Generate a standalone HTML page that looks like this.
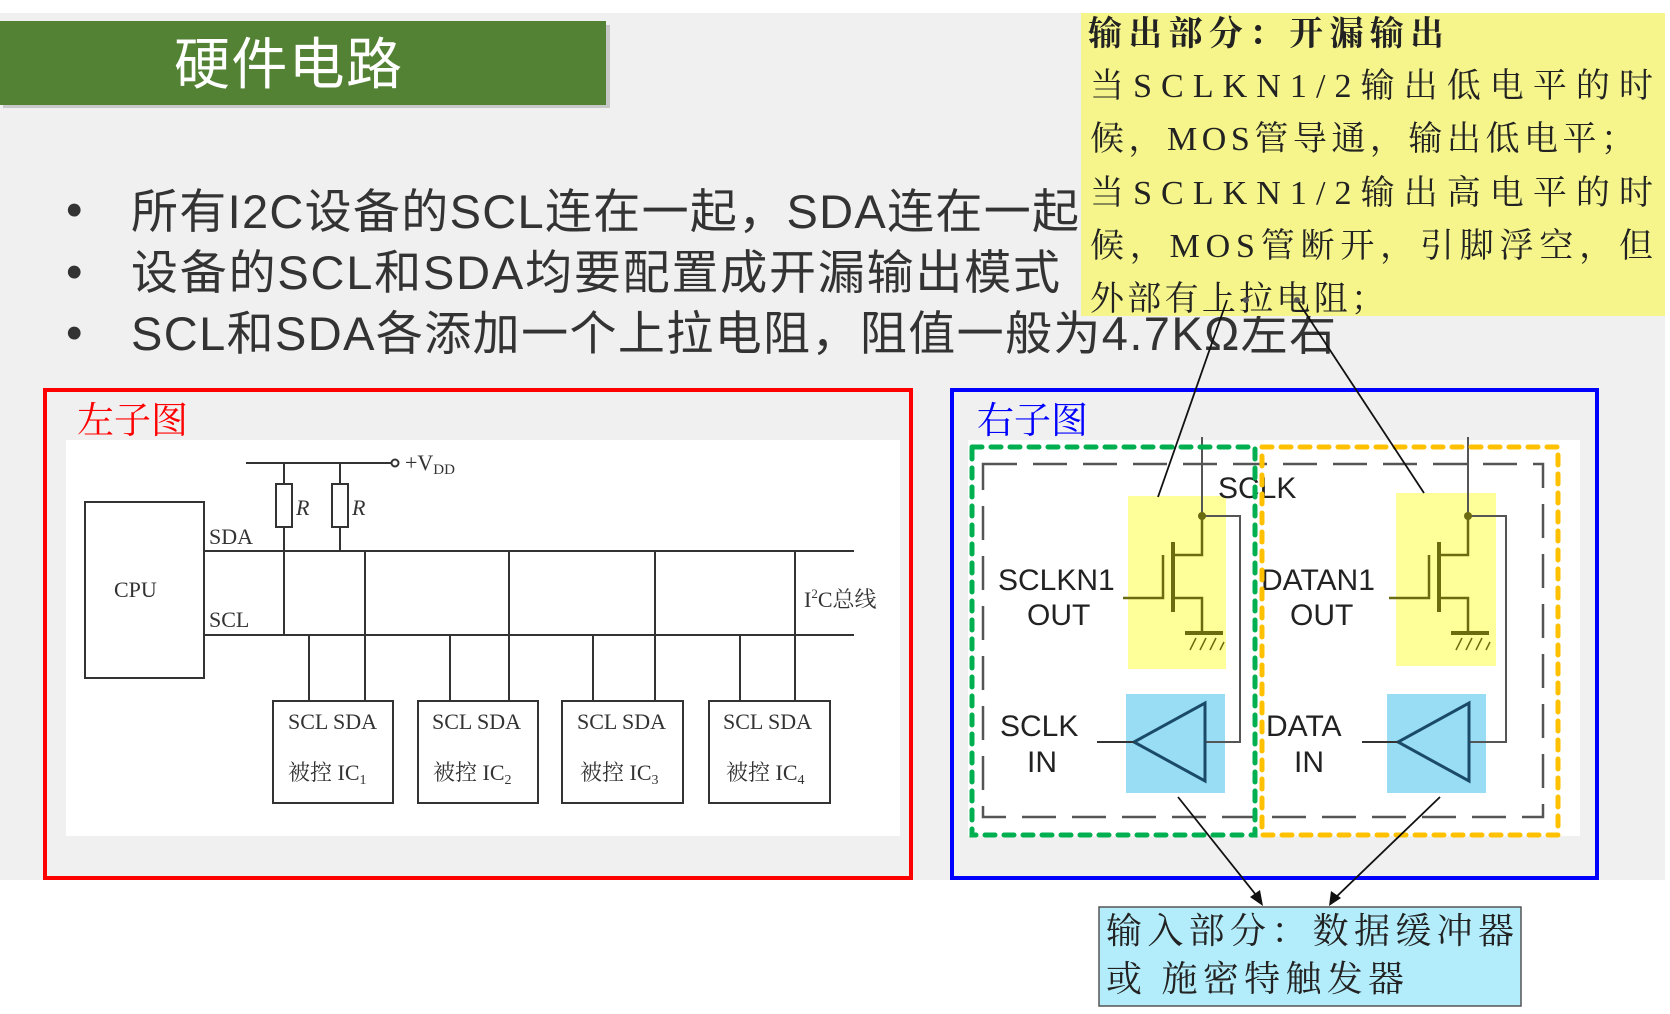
<!DOCTYPE html>
<html><head><meta charset="utf-8"><style>
body{margin:0;width:1670px;height:1014px;background:#fff;overflow:hidden}
svg{display:block}
.t{font-family:"Liberation Serif","Noto Serif CJK SC",serif}
.s{font-family:"Liberation Sans","Noto Sans CJK SC",sans-serif}
</style></head><body>
<svg width="1670" height="1014" viewBox="0 0 1670 1014" xmlns="http://www.w3.org/2000/svg">
<rect x="0" y="13" width="1665" height="867" fill="#f0f0f0"/>
<rect x="3" y="25" width="607" height="83" fill="#c8c8c8"/>
<rect x="0" y="21" width="606" height="84" fill="#548235"/>
<text x="174" y="84" class="s" font-size="56" fill="#fff" textLength="228">硬件电路</text>

<g class="s" font-size="47" fill="#333">
<text x="66" y="226">•</text><text x="131" y="228" textLength="948">所有I2C设备的SCL连在一起，SDA连在一起</text>
<text x="66" y="288">•</text><text x="131" y="289" textLength="929">设备的SCL和SDA均要配置成开漏输出模式</text>
<text x="66" y="349">•</text><text x="131" y="350" textLength="1205">SCL和SDA各添加一个上拉电阻，阻值一般为4.7KΩ左右</text>
</g>

<rect x="1081" y="13" width="584" height="303" fill="#f5f58c"/>
<g class="t" font-size="34" fill="#222">
<text x="1088" y="45" font-weight="bold" textLength="356">输出部分：开漏输出</text>
<text x="1090" y="97" textLength="563">当SCLKN1/2输出低电平的时</text>
<text x="1090" y="150" textLength="545">候，MOS管导通，输出低电平；</text>
<text x="1090" y="204" textLength="563">当SCLKN1/2输出高电平的时</text>
<text x="1090" y="257" textLength="563">候，MOS管断开，引脚浮空，但</text>
<text x="1090" y="310" textLength="295">外部有上拉电阻；</text>
</g>

<!-- left panel -->
<rect x="45" y="390" width="866" height="488" fill="none" stroke="#f00" stroke-width="4"/>
<text x="77" y="433" class="t" font-size="37" fill="#f00">左子图</text>
<rect x="66" y="440" width="834" height="396" fill="#fff"/>
<g stroke="#333" stroke-width="2" fill="none">
<rect x="85" y="502" width="119" height="176"/>
<line x1="246" y1="463" x2="392" y2="463"/>
<circle cx="395" cy="463" r="3.5"/>
<line x1="284" y1="463" x2="284" y2="635"/>
<line x1="340" y1="463" x2="340" y2="551"/>
<rect x="276" y="484" width="16" height="43" fill="#fff"/>
<rect x="332" y="484" width="16" height="43" fill="#fff"/>
<line x1="204" y1="551" x2="854" y2="551"/>
<line x1="204" y1="635" x2="854" y2="635"/>
<line x1="309" y1="635" x2="309" y2="701"/><line x1="365" y1="551" x2="365" y2="701"/>
<line x1="450" y1="635" x2="450" y2="701"/><line x1="509" y1="551" x2="509" y2="701"/>
<line x1="593" y1="635" x2="593" y2="701"/><line x1="655" y1="551" x2="655" y2="701"/>
<line x1="740" y1="635" x2="740" y2="701"/><line x1="795" y1="551" x2="795" y2="701"/>
<rect x="273" y="701" width="120" height="102"/>
<rect x="418" y="701" width="120" height="102"/>
<rect x="562" y="701" width="121" height="102"/>
<rect x="709" y="701" width="121" height="102"/>
</g>
<g class="t" fill="#333" font-size="22">
<text x="405" y="470">+V<tspan font-size="15" dy="4">DD</tspan></text>
<text x="296" y="515" font-style="italic">R</text><text x="352" y="515" font-style="italic">R</text>
<text x="209" y="544">SDA</text><text x="209" y="627">SCL</text>
<text x="114" y="597">CPU</text>
<text x="804" y="607">I<tspan font-size="13" dy="-9">2</tspan><tspan dy="9">C总线</tspan></text>
<text x="288" y="729">SCL SDA</text><text x="432" y="729">SCL SDA</text><text x="577" y="729">SCL SDA</text><text x="723" y="729">SCL SDA</text>
<text x="288" y="780">被控 IC<tspan font-size="14" dy="4">1</tspan></text>
<text x="433" y="780">被控 IC<tspan font-size="14" dy="4">2</tspan></text>
<text x="580" y="780">被控 IC<tspan font-size="14" dy="4">3</tspan></text>
<text x="726" y="780">被控 IC<tspan font-size="14" dy="4">4</tspan></text>
</g>

<!-- right panel -->
<rect x="952" y="390" width="645" height="488" fill="none" stroke="#00f" stroke-width="4"/>
<text x="977" y="433" class="t" font-size="37" fill="#00f">右子图</text>
<rect x="968" y="440" width="612" height="396" fill="#fff"/>
<rect x="1128" y="496" width="98" height="173" fill="#ffff99"/>
<rect x="1396" y="493" width="100" height="173" fill="#ffff99"/>
<rect x="1126" y="694" width="99" height="99" fill="#99ddf5"/>
<rect x="1387" y="694" width="99" height="99" fill="#99ddf5"/>
<rect x="983" y="464" width="560" height="353" fill="none" stroke="#555" stroke-width="2.5" stroke-dasharray="34,16"/>
<g stroke="#555" stroke-width="2" fill="none">
<line x1="1202" y1="437" x2="1202" y2="516"/>
<polyline points="1202,516 1240,516 1240,742 1205,742"/>
<line x1="1468" y1="437" x2="1468" y2="516"/>
<polyline points="1468,516 1506,516 1506,742 1470,742"/>
</g>
<g stroke="#6b6b10" stroke-width="2.5" fill="none">
<polyline points="1202,516 1202,555 1175,555"/><line x1="1173" y1="542" x2="1173" y2="612" stroke-width="4"/>
<polyline points="1175,598 1202,598 1202,633"/><line x1="1185" y1="633" x2="1223" y2="633" stroke-width="4"/>
<path d="M1190,650 l6,-12 M1200,650 l6,-12 M1210,650 l6,-12 M1220,650 l4,-8" stroke-width="1.5"/>
<polyline points="1163,555 1163,598 1123,598"/>
<polyline points="1468,516 1468,555 1441,555"/><line x1="1439" y1="542" x2="1439" y2="612" stroke-width="4"/>
<polyline points="1441,598 1468,598 1468,633"/><line x1="1451" y1="633" x2="1489" y2="633" stroke-width="4"/>
<path d="M1456,650 l6,-12 M1466,650 l6,-12 M1476,650 l6,-12 M1486,650 l4,-8" stroke-width="1.5"/>
<polyline points="1429,555 1429,598 1389,598"/>
</g>
<circle cx="1202" cy="516" r="4" fill="#6b6b10"/><circle cx="1468" cy="516" r="4" fill="#6b6b10"/>
<g stroke="#1a4a66" stroke-width="3" fill="none">
<polygon points="1205,703 1205,781 1134,742"/>
<polygon points="1469,703 1469,781 1398,742"/>
</g>
<g stroke="#333" stroke-width="2"><line x1="1097" y1="742" x2="1134" y2="742"/><line x1="1362" y1="742" x2="1398" y2="742"/></g>
<g class="s" font-size="30" fill="#222">
<text x="998" y="590">SCLKN1</text><text x="1027" y="625">OUT</text>
<text x="1000" y="736">SCLK</text><text x="1027" y="772">IN</text>
<text x="1261" y="590">DATAN1</text><text x="1290" y="625">OUT</text>
<text x="1266" y="736">DATA</text><text x="1294" y="772">IN</text>
<text x="1218" y="498">SCLK</text>
</g>
<rect x="972" y="447" width="283" height="388" fill="none" stroke="#00b050" stroke-width="5" stroke-dasharray="10,9" stroke-linecap="round"/>
<rect x="1262" y="447" width="296" height="388" fill="none" stroke="#ffc000" stroke-width="5" stroke-dasharray="10,9" stroke-linecap="round"/>

<!-- connectors -->
<g stroke="#111" stroke-width="1.8" fill="none">
<line x1="1227" y1="300" x2="1158" y2="497"/>
<line x1="1297" y1="300" x2="1424" y2="493"/>
<line x1="1178" y1="797" x2="1260" y2="900"/>
<line x1="1440" y1="797" x2="1333" y2="900"/>
</g>
<circle cx="1246" cy="300" r="3" fill="#555"/><circle cx="1297" cy="300" r="3" fill="#555"/>
<polygon points="1263,906 1250,897 1260,890" fill="#111"/>
<polygon points="1329,906 1331,891 1341,898" fill="#111"/>

<rect x="1099" y="907" width="422" height="99" fill="#b3ecfa" stroke="#555" stroke-width="1.5"/>
<g class="t" font-size="36" fill="#222">
<text x="1106" y="943" textLength="408">输入部分：数据缓冲器</text>
<text x="1106" y="991" textLength="298">或 施密特触发器</text>
</g>
</svg>
</body></html>
